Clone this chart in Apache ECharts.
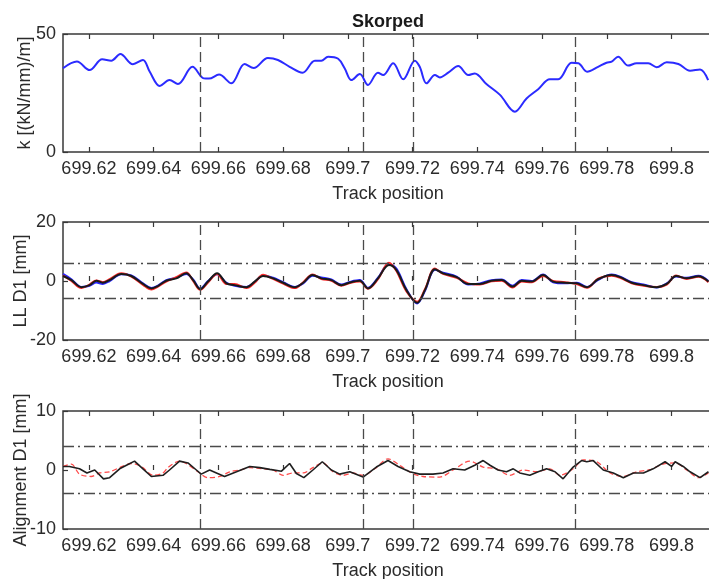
<!DOCTYPE html>
<html>
<head>
<meta charset="utf-8">
<title>Skorped</title>
<script src="https://cdn.jsdelivr.net/npm/echarts@6/dist/echarts.min.js"></script>
<style>
  html, body { margin: 0; padding: 0; background: #ffffff; }
  #chart { width: 709px; height: 579px; }
</style>
</head>
<body>
<div id="chart"></div>
<script>
// ---- Track position ticks and section boundaries (km) ----
const tickPositions = [699.62, 699.64, 699.66, 699.68, 699.70, 699.72, 699.74, 699.76, 699.78, 699.80];
const sectionMarks = [699.6545, 699.7047, 699.7202, 699.7704];

// ---- Track stiffness k [(kN/mm)/m] ----
const stiffPos = [699.6120, 699.6163, 699.6202, 699.6241, 699.6269, 699.6297, 699.6336, 699.6367, 699.6388, 699.6419,
  699.6449, 699.6475, 699.6520, 699.6555, 699.6571, 699.6602, 699.6640, 699.6681, 699.6709, 699.6753,
  699.6784, 699.6820, 699.6860, 699.6898, 699.6918, 699.6939, 699.6970, 699.6990, 699.7011, 699.7037,
  699.7062, 699.7093, 699.7109, 699.7140, 699.7171, 699.7207, 699.7222, 699.7243, 699.7269, 699.7284,
  699.7310, 699.7341, 699.7372, 699.7392, 699.7428, 699.7470, 699.7516, 699.7552, 699.7588, 699.7624,
  699.7650, 699.7691, 699.7712, 699.7739, 699.7773, 699.7799, 699.7815, 699.7835, 699.7866, 699.7892,
  699.7928, 699.7954, 699.7985, 699.8021, 699.8057, 699.8088, 699.8113];
const stiffVal = [35.5, 38.3, 34.7, 39.3, 38.7, 41.5, 37.2, 39.0, 34.0, 28.0,
  30.5, 28.8, 36.1, 31.2, 31.1, 32.8, 29.1, 37.3, 35.6, 39.8,
  39.0, 36.1, 33.6, 38.7, 38.7, 40.4, 39.5, 35.5, 30.5, 33.0,
  28.4, 33.6, 32.6, 37.6, 30.8, 38.7, 36.1, 29.1, 32.6, 31.6,
  33.6, 36.4, 32.6, 33.3, 28.8, 24.2, 17.1, 22.7, 26.6, 30.8,
  30.8, 37.8, 37.6, 34.0, 36.1, 37.8, 38.3, 40.4, 36.6, 37.6,
  37.6, 35.9, 38.0, 37.3, 34.4, 35.0, 30.5];

// ---- Longitudinal level D1 [mm] ----
const lldPos = [699.6120, 699.6146, 699.6177, 699.6202, 699.6223, 699.6243, 699.6264, 699.6300, 699.6331, 699.6367,
  699.6393, 699.6413, 699.6439, 699.6470, 699.6501, 699.6522, 699.6544, 699.6568, 699.6596, 699.6625,
  699.6650, 699.6687, 699.6712, 699.6738, 699.6769, 699.6800, 699.6836, 699.6862, 699.6891, 699.6918,
  699.6949, 699.6980, 699.7006, 699.7037, 699.7062, 699.7093, 699.7127, 699.7150, 699.7181, 699.7214,
  699.7238, 699.7269, 699.7294, 699.7336, 699.7372, 699.7408, 699.7444, 699.7475, 699.7509, 699.7537,
  699.7568, 699.7603, 699.7634, 699.7671, 699.7707, 699.7739, 699.7773, 699.7815, 699.7841, 699.7877,
  699.7913, 699.7954, 699.7985, 699.8014, 699.8047, 699.8083, 699.8114];
const lldBlue = [2.4, 0.6, -2.0, -1.6, -0.5, -1.0, 0.0, 2.3, 1.9, -0.8,
  -2.4, -1.6, 0.3, 1.1, 2.4, 0.5, -2.6, 0.0, 2.3, -0.6,
  -1.6, -2.0, -0.4, 1.9, 1.1, -0.4, -2.0, -0.8, 1.8, 1.2,
  0.5, -1.2, -0.3, 0.3, -2.3, 1.1, 5.8, 4.2, -2.8, -7.6,
  -3.4, 3.8, 2.8, 1.5, -1.2, -0.8, 0.3, 0.5, -1.6, 0.3,
  0.0, 2.2, -0.4, -0.8, -0.6, -2.0, 0.4, 2.2, 1.5, -0.4,
  -1.2, -2.2, -0.8, 1.5, 1.1, 1.8, 0.0];
const lldRed = [1.9, 0.0, -2.4, -1.2, 0.2, -0.4, 0.6, 2.6, 1.5, -1.3,
  -2.9, -1.9, -0.2, 1.3, 2.9, 0.0, -3.0, -0.5, 2.4, -1.0,
  -1.0, -2.4, -0.6, 2.1, 0.7, -0.9, -2.4, -0.4, 2.2, 0.7,
  0.1, -1.6, -0.7, -0.2, -2.6, 0.6, 6.2, 3.4, -3.5, -7.0,
  -2.8, 4.2, 2.4, 1.1, -0.8, -1.2, -0.1, 0.1, -2.2, -0.2,
  -0.4, 1.7, 0.0, -0.4, -1.0, -2.3, 0.8, 1.8, 1.1, -0.8,
  -1.6, -2.0, -1.2, 1.9, 0.7, 1.4, -0.4];
const lldBlack = [1.7, 0.3, -2.1, -1.4, 0.1, -0.6, 0.3, 2.4, 1.7, -1.0,
  -2.5, -1.7, 0.1, 0.9, 2.6, 0.3, -2.8, -0.2, 2.6, -0.8,
  -1.4, -2.1, -0.2, 1.7, 0.9, -0.6, -2.1, -0.6, 2.0, 0.9,
  0.3, -1.4, -0.5, 0.1, -2.5, 0.9, 5.4, 3.7, -3.1, -7.4,
  -3.1, 4.0, 2.6, 1.3, -1.0, -1.0, 0.1, 0.3, -1.9, 0.1,
  -0.2, 2.0, -0.2, -0.6, -0.8, -2.1, 0.6, 2.0, 1.3, -0.6,
  -1.4, -2.1, -1.0, 1.7, 0.9, 1.6, -0.2];
const lldLimits = [6, -6];

// ---- Alignment D1 [mm] ----
const alignBlackPos = [699.6120, 699.6140, 699.6171, 699.6194, 699.6218, 699.6245, 699.6264, 699.6295, 699.6316, 699.6341,
  699.6367, 699.6393, 699.6429, 699.6449, 699.6480, 699.6506, 699.6532, 699.6547, 699.6573, 699.6594,
  699.6619, 699.6656, 699.6697, 699.6728, 699.6759, 699.6795, 699.6820, 699.6841, 699.6864, 699.6892,
  699.6921, 699.6949, 699.6975, 699.7006, 699.7047, 699.7088, 699.7124, 699.7155, 699.7191, 699.7222,
  699.7263, 699.7294, 699.7325, 699.7361, 699.7392, 699.7418, 699.7439, 699.7464, 699.7490, 699.7511,
  699.7531, 699.7562, 699.7588, 699.7614, 699.7640, 699.7665, 699.7696, 699.7722, 699.7738, 699.7758,
  699.7789, 699.7820, 699.7851, 699.7882, 699.7913, 699.7943, 699.7980, 699.8000, 699.8011, 699.8036,
  699.8057, 699.8088, 699.8114];
const alignBlack = [0.6, 0.6, 0.2, -0.5, 0.0, -1.5, -1.3, 0.2, 0.8, 1.5,
  0.2, -1.1, -0.9, 0.0, 1.5, 1.2, 0.0, -0.7, 0.0, -0.5,
  -1.1, -0.3, 0.6, 0.4, 0.1, -0.2, 1.1, -0.6, -1.3, 0.0,
  1.4, 0.0, -0.7, -0.3, -1.2, 0.5, 1.6, 0.6, -0.3, -0.7,
  -0.7, -0.5, 0.2, 0.0, 0.8, 1.6, 0.8, 0.0, -0.3, 0.2,
  -0.5, -0.9, -0.3, 0.2, -0.3, -1.5, 0.5, 1.6, 1.4, 1.6,
  0.0, -0.5, -1.3, -0.5, -0.5, 0.2, 1.4, 0.6, 1.4, 0.6,
  -0.3, -1.3, -0.3];
const alignRedPos = [699.6120, 699.6146, 699.6171, 699.6207, 699.6233, 699.6264, 699.6295, 699.6331, 699.6362, 699.6398,
  699.6429, 699.6444, 699.6480, 699.6501, 699.6537, 699.6568, 699.6604, 699.6635, 699.6666, 699.6697,
  699.6738, 699.6769, 699.6800, 699.6831, 699.6862, 699.6892, 699.6923, 699.6954, 699.6985, 699.7016,
  699.7047, 699.7083, 699.7124, 699.7160, 699.7197, 699.7232, 699.7284, 699.7325, 699.7377, 699.7418,
  699.7459, 699.7500, 699.7542, 699.7583, 699.7624, 699.7655, 699.7696, 699.7727, 699.7769, 699.7810,
  699.7851, 699.7892, 699.7933, 699.7974, 699.8011, 699.8047, 699.8083, 699.8114];
const alignRed = [0.6, 1.0, -0.7, -1.1, -0.5, -0.3, 0.4, 1.1, 0.6, -0.9,
  -0.5, 0.4, 1.5, 1.1, -0.3, -1.3, -1.1, -0.3, 0.0, 0.4,
  0.2, 0.0, -0.9, -0.5, -0.5, 0.4, 1.2, -0.3, -0.9, -0.5,
  -0.9, 0.2, 1.9, 0.8, -0.5, -1.1, -1.2, 0.0, 1.5, 0.5,
  0.2, -0.9, 0.0, -0.3, 0.2, -0.9, 0.2, 1.7, 1.4, -0.5,
  -1.1, -0.3, 0.05, 1.0, 1.2, 0.0, -1.3, -0.5];
const alignLimits = [4, -4];

// ---- Shared layout ----
const X_MIN = 699.612;
const X_MAX = 699.8128;
const FONT = '"Liberation Sans", Arial, sans-serif';
const TEXT = '#2b2b2b';
const AXIS = '#383838';
const PANEL_TOPS = [34, 222, 411];
const PANEL_H = 118;

const zip = (xs, ys) => xs.map((x, i) => [x, ys[i]]);
const fmtPos = v => String(+v.toFixed(2));

// the axes box runs slightly past the right edge of the page, so no auto-fitting
const grids = PANEL_TOPS.map(top => ({
  left: 63, top: top, width: 650, height: PANEL_H,
  show: true, borderColor: AXIS, borderWidth: 1.5,
  containLabel: false, outerBoundsMode: 'none'
}));

const xAxes = [];
[0, 1, 2].forEach(g => {
  xAxes.push({
    type: 'value', gridIndex: g, min: X_MIN, max: X_MAX, position: 'bottom',
    name: 'Track position', nameLocation: 'middle', nameGap: 33, nameMoveOverlap: false,
    nameTextStyle: { fontFamily: FONT, fontSize: 18, color: TEXT },
    axisLine: { show: false },
    axisTick: { show: true, inside: true, length: 5, customValues: tickPositions,
      lineStyle: { color: AXIS, width: 1.2 } },
    axisLabel: { show: true, customValues: tickPositions, formatter: fmtPos, margin: 8,
      fontFamily: FONT, fontSize: 18, color: TEXT },
    splitLine: { show: false }
  });
  xAxes.push({
    type: 'value', gridIndex: g, min: X_MIN, max: X_MAX, position: 'top',
    axisLine: { show: false },
    axisTick: { show: true, inside: true, length: 5, customValues: tickPositions,
      lineStyle: { color: AXIS, width: 1.2 } },
    axisLabel: { show: false },
    splitLine: { show: false }
  });
});

// wider tick labels (negative values) push the axis title further out
const yDefs = [
  { name: 'k [(kN/mm)/m]', min: 0, max: 50, interval: 50, gap: 29 },
  { name: 'LL D1 [mm]', min: -20, max: 20, interval: 20, gap: 33 },
  { name: 'Alignment D1 [mm]', min: -10, max: 10, interval: 10, gap: 33 }
];
const yAxes = yDefs.map((d, g) => ({
  type: 'value', gridIndex: g, min: d.min, max: d.max, interval: d.interval,
  name: d.name, nameLocation: 'middle', nameGap: d.gap, nameRotate: 90, nameMoveOverlap: false,
  nameTextStyle: { fontFamily: FONT, fontSize: 18, color: TEXT },
  axisLine: { show: false },
  axisTick: { show: true, inside: true, length: 5, lineStyle: { color: AXIS, width: 1.2 } },
  axisLabel: { margin: 7, fontFamily: FONT, fontSize: 18, color: TEXT },
  splitLine: { show: false }
}));

const DASH = [10, 5];
const DASH_DOT = [11, 4, 2, 4];
const markColor = '#4a4a4a';

function sectionLines(limits) {
  const data = sectionMarks.map(v => ({ xAxis: v, lineStyle: { type: DASH, color: markColor, width: 1.3 } }));
  (limits || []).forEach(v => data.push({ yAxis: v, lineStyle: { type: DASH_DOT, color: markColor, width: 1.3 } }));
  return {
    silent: true, symbol: ['none', 'none'], animation: false, precision: 4,
    label: { show: false }, emphasis: { disabled: true },
    data: data
  };
}

function lineSeries(name, g, data, color, width, opts) {
  return Object.assign({
    name: name, type: 'line', xAxisIndex: g * 2, yAxisIndex: g,
    data: data, showSymbol: false, symbol: 'none', smooth: 0.35,
    lineStyle: { color: color, width: width }, z: 3, animation: false
  }, opts || {});
}

const series = [
  lineSeries('k', 0, zip(stiffPos, stiffVal), '#2b2bff', 2, { markLine: sectionLines(null) }),

  lineSeries('LL D1 right', 1, zip(lldPos, lldBlue), '#2424ff', 2, { markLine: sectionLines(lldLimits) }),
  lineSeries('LL D1 left', 1, zip(lldPos, lldRed), '#ff2a2a', 2),
  lineSeries('LL D1 mean', 1, zip(lldPos, lldBlack), '#1a1a1a', 2),

  lineSeries('Alignment D1 ref', 2, zip(alignRedPos, alignRed), '#ff4a4a', 1.3,
    { markLine: sectionLines(alignLimits), smooth: 0.3, lineStyle: { color: '#ff4a4a', width: 1.3, type: [5, 3] } }),
  lineSeries('Alignment D1', 2, zip(alignBlackPos, alignBlack), '#1f1f1f', 1.6, { smooth: false })
];

const chart = echarts.init(document.getElementById('chart'), null, { renderer: 'canvas' });
chart.setOption({
  backgroundColor: '#ffffff',
  animation: false,
  title: {
    text: 'Skorped', left: 352, top: 13, padding: 0,
    textStyle: { fontFamily: FONT, fontSize: 18, fontWeight: 'bold', color: '#1a1a1a' }
  },
  grid: grids,
  xAxis: xAxes,
  yAxis: yAxes,
  series: series
});
</script>
</body>
</html>
